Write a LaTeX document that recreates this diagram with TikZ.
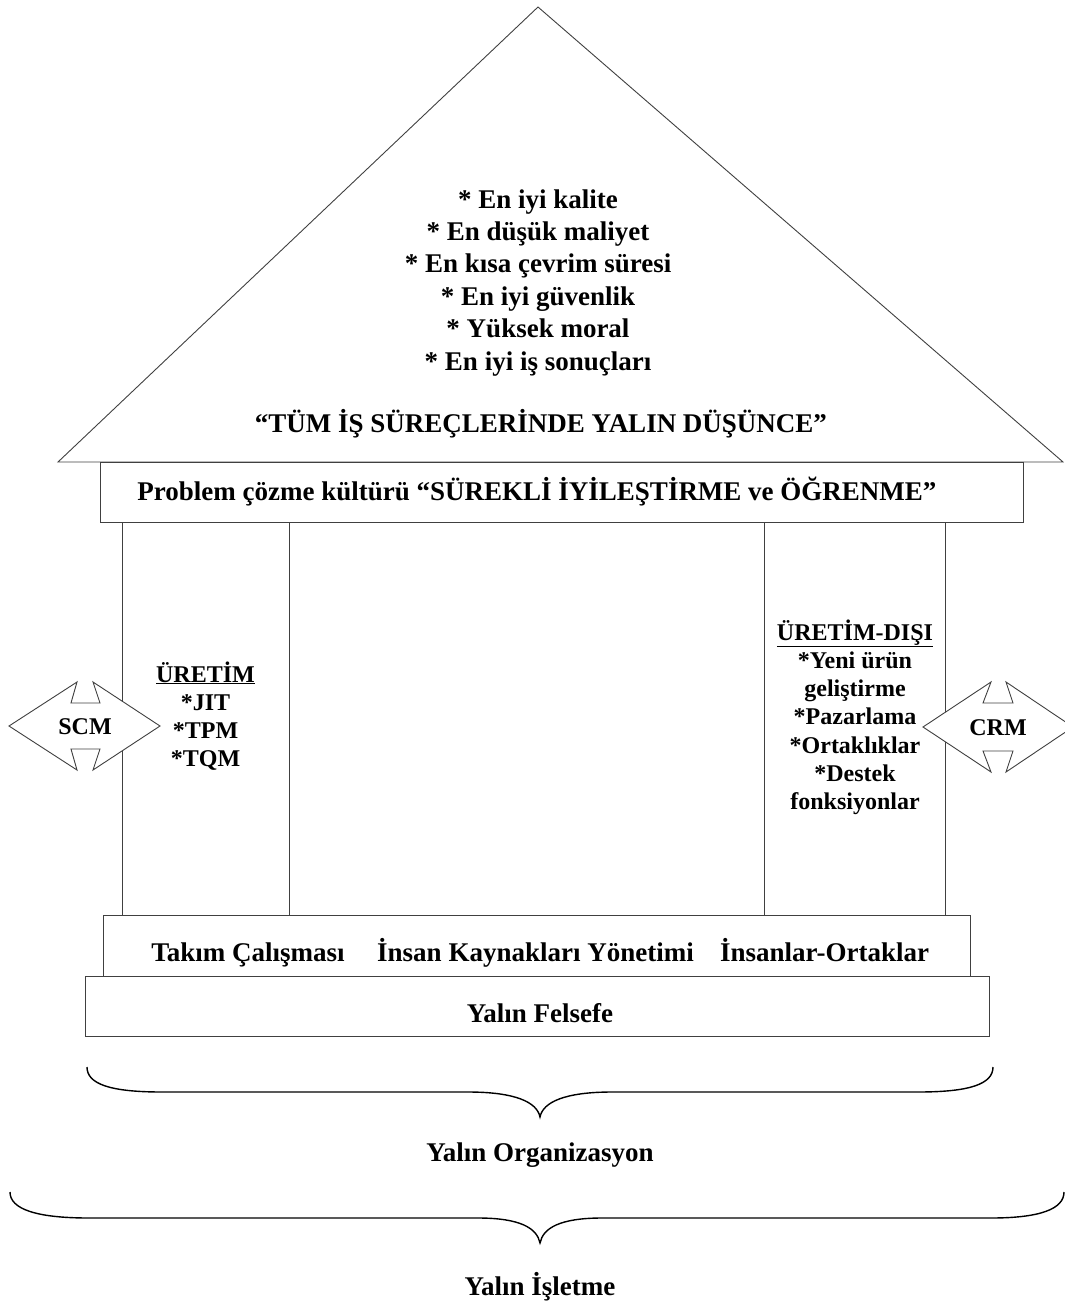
\documentclass[tikz,border=0pt]{standalone}
\usepackage{fontspec}
\setmainfont{Liberation Serif}
\begin{document}
\begin{tikzpicture}[x=1pt,y=-1pt,
  frame/.style={draw=black!75,line width=0.9pt},
  big/.style={font=\bfseries\fontsize{27}{31}\selectfont,inner sep=0pt,anchor=base},
  small/.style={font=\bfseries\fontsize{24}{28}\selectfont,inner sep=0pt,anchor=base},
  bracestroke/.style={draw=black,line width=1.4pt}]
\useasboundingbox (0,0) rectangle (1065,1301);
\clip (0,0) rectangle (1065,1301);

% roof
\coordinate (apex) at (538,7);
\coordinate (eaveL) at (58,462);
\coordinate (eaveR) at (1063,462);
\draw[frame] (eaveL) -- (apex) -- (eaveR) -- cycle;

\node[big] (g1) at (538,208) {* En iyi kalite};
\node[big] (g2) at (538,240.4) {* En düşük maliyet};
\node[big] (g3) at (538,272.8) {* En kısa çevrim süresi};
\node[big] (g4) at (538,305.2) {* En iyi güvenlik};
\node[big] (g5) at (538,337.6) {* Yüksek moral};
\node[big] (g6) at (538,370) {* En iyi iş sonuçları};
\node[big] (lean) at (541,432) {“TÜM İŞ SÜREÇLERİNDE YALIN DÜŞÜNCE”};

% beam
\draw[frame] (100,462) rectangle (1023,522);
\node[big] (beam) at (537,500) {Problem çözme kültürü “SÜREKLİ İYİLEŞTİRME ve ÖĞRENME”};

% pillars
\draw[frame] (122,522) rectangle (289,915);
\draw[frame] (764,522) rectangle (945,915);

\node[small] (p1) at (205.5,682) {\underline{ÜRETİM}};
\node[small] (p2) at (205.5,710.3) {*JIT};
\node[small] (p3) at (205.5,738.6) {*TPM};
\node[small] (p4) at (205.5,766.9) {*TQM};

\node[small] (n1) at (855,640) {\underline{ÜRETİM-DIŞI}};
\node[small] (n2) at (855,668.3) {*Yeni ürün};
\node[small] (n3) at (855,696.6) {geliştirme};
\node[small] (n4) at (855,724.9) {*Pazarlama};
\node[small] (n5) at (855,753.2) {*Ortaklıklar};
\node[small] (n6) at (855,781.5) {*Destek};
\node[small] (n7) at (855,809.8) {fonksiyonlar};

% foundation steps
\draw[frame] (103,915) rectangle (970,976);
\node[big] (team) at (248,961) {Takım Çalışması};
\node[big] (hrm) at (535.5,961) {İnsan Kaynakları Yönetimi};
\node[big] (people) at (824.5,961) {İnsanlar-Ortaklar};

\draw[frame] (85,976) rectangle (989,1036);
\node[big] (phil) at (540,1022) {Yalın Felsefe};

% double-headed arrows on both sides
\draw[frame,fill=white] (9,726) -- (77,682) -- (71,703) -- (100,703) -- (93,682) -- (160,726)
  -- (93,770) -- (100,749) -- (71,749) -- (77,770) -- cycle;
\node[small] (scm) at (85,734) {SCM};

\draw[frame,fill=white] (923,727) -- (991,682) -- (983,703) -- (1013,703) -- (1006,682) -- (1073,727)
  -- (1006,772) -- (1013,751) -- (983,751) -- (991,772) -- cycle;
\node[small] (crm) at (998,735) {CRM};

% braces
\draw[bracestroke] (87,1067) .. controls (87,1084) and (110,1092) .. (162,1092)
  -- (468,1092) .. controls (515,1092) and (537,1102) .. (540,1117)
  .. controls (543,1102) and (565,1092) .. (612,1092)
  -- (918,1092) .. controls (970,1092) and (993,1084) .. (993,1067);
\node[big] (org) at (540,1161) {Yalın Organizasyon};

\draw[bracestroke] (10,1192) .. controls (10,1209) and (36,1218) .. (89,1218)
  -- (478,1218) .. controls (520,1218) and (537,1228) .. (540,1243)
  .. controls (543,1228) and (560,1218) .. (602,1218)
  -- (991,1218) .. controls (1040,1218) and (1064,1209) .. (1064,1192);
\node[big] (ent) at (540,1295) {Yalın İşletme};
\end{tikzpicture}
\end{document}
